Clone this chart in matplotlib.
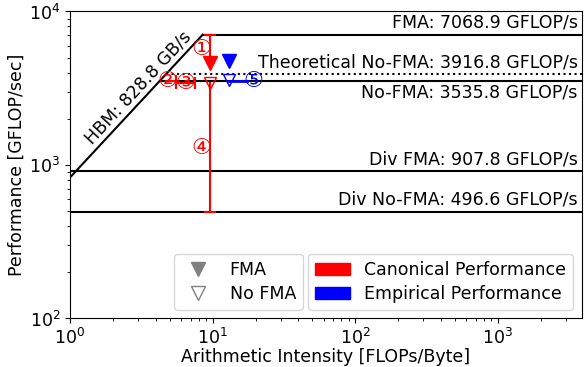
import numpy as np
import matplotlib.pyplot as plt
from matplotlib.lines import Line2D
from matplotlib.patches import Patch

# machine ceilings
hbm_bw = 828.8
peak_fma = 7068.9
peak_nofma = 3535.8
peak_nofma_theory = 3916.8
peak_div_fma = 907.8
peak_div_nofma = 496.6

# measured kernel (arithmetic intensity, GFLOP/s)
canon_ai = 9.55
canon_fma = 4620.0
canon_nofma = 3400.0
emp_ai = 12.97
emp_fma = 4760.0
emp_nofma = 3605.0

# gap markers: x range, y range, caps at the two ends
gap_names = ['①', '②', '③', '④', '⑤']
gap_x = [(canon_ai, canon_ai), (4.73, 5.51), (5.51, 7.53), (canon_ai, canon_ai), (emp_ai, 17.3)]
gap_y = [(canon_fma, peak_fma), (peak_nofma, peak_nofma), (3420.0, 3420.0),
         (peak_div_nofma, canon_nofma), (peak_nofma, peak_nofma)]
gap_caps = [(False, True), (False, True), (True, True), (True, False), (False, False)]
gap_color = ['red', 'red', 'red', 'red', 'blue']
gap_lw = [1.5, 1.5, 1.5, 1.5, 2.0]
gap_label_pos = [(8.33, 5713.0), (4.85, peak_nofma), (6.45, 3420.0), (8.33, 1299.0), (19.4, peak_nofma)]

xmin, xmax = 1, 3900
ymin, ymax = 100, 10000

plt.rcParams['font.size'] = 12.5

fig, ax = plt.subplots(figsize=(5.86, 3.67), dpi=100)
fig.subplots_adjust(left=0.1195, right=0.9932, bottom=0.1322, top=0.9687)
ax.set_xscale('log')
ax.set_yscale('log')
ax.set_xlim(xmin, xmax)
ax.set_ylim(ymin, ymax)

# rooflines
ridge = peak_fma / hbm_bw
ax.plot([xmin, ridge], [hbm_bw * xmin, peak_fma], 'k-', lw=1.5)
ax.plot([ridge, xmax], [peak_fma, peak_fma], 'k-', lw=1.5)
ax.plot([peak_nofma / hbm_bw, xmax], [peak_nofma, peak_nofma], 'k-', lw=1.5)
ax.plot([peak_nofma_theory / hbm_bw, xmax], [peak_nofma_theory] * 2, 'k:', lw=1.5)
ax.plot([xmin, xmax], [peak_div_fma] * 2, 'k-', lw=1.5)
ax.plot([xmin, xmax], [peak_div_nofma] * 2, 'k-', lw=1.5)

def roof_label(text, y, above=True):
    ax.annotate(text, xy=(xmax, y), xytext=(-3, 2 if above else -2),
                textcoords='offset points', ha='right',
                va='bottom' if above else 'top')

roof_label(f'FMA: {peak_fma} GFLOP/s', peak_fma)
roof_label(f'Theoretical No-FMA: {peak_nofma_theory} GFLOP/s', peak_nofma_theory)
roof_label(f'No-FMA: {peak_nofma} GFLOP/s', peak_nofma, above=False)
roof_label(f'Div FMA: {peak_div_fma} GFLOP/s', peak_div_fma)
roof_label(f'Div No-FMA: {peak_div_nofma} GFLOP/s', peak_div_nofma)

# bandwidth label along the slope
p1 = ax.transData.transform((xmin, hbm_bw * xmin))
p2 = ax.transData.transform((ridge, peak_fma))
angle = np.degrees(np.arctan2(p2[1] - p1[1], p2[0] - p1[0]))
ax.annotate(f'HBM: {hbm_bw} GB/s', xy=(3.45, hbm_bw * 3.45), xytext=(-1, 1),
            textcoords='offset points', rotation=angle, rotation_mode='anchor',
            ha='center', va='bottom')

# gaps between ceilings and measurements
for name, xs, ys, caps, c, lw, pos in zip(gap_names, gap_x, gap_y, gap_caps,
                                          gap_color, gap_lw, gap_label_pos):
    ax.plot(xs, ys, color=c, lw=lw)
    cap = '_' if xs[0] == xs[1] else '|'
    for x, y, has_cap in zip(xs, ys, caps):
        if has_cap:
            ax.plot(x, y, marker=cap, color=c, ms=9, mew=1.5)
    ax.text(pos[0], pos[1], name, color=c, ha='center', va='center', fontsize=16)

# measured points
ax.plot(canon_ai, canon_fma, 'v', color='red', ms=10)
ax.plot(emp_ai, emp_fma, 'v', color='blue', ms=10)
ax.plot(canon_ai, canon_nofma, 'v', mfc='none', mec='red', ms=9, mew=1)
ax.plot(emp_ai, emp_nofma, 'v', mfc='none', mec='blue', ms=9, mew=1)

ax.set_xlabel('Arithmetic Intensity [FLOPs/Byte]', labelpad=0)
ax.set_ylabel('Performance [GFLOP/sec]', labelpad=2)

marker_handles = [
    Line2D([], [], marker='v', color='gray', ls='none', ms=10),
    Line2D([], [], marker='v', mfc='none', mec='gray', ls='none', ms=10, mew=1),
]
leg1 = ax.legend(marker_handles, ['FMA', 'No FMA'], loc='lower left',
                 bbox_to_anchor=(0.203, 0.028), borderaxespad=0, labelspacing=0.35)
ax.add_artist(leg1)
color_handles = [Patch(color='red'), Patch(color='blue')]
ax.legend(color_handles, ['Canonical Performance', 'Empirical Performance'],
          loc='lower right', bbox_to_anchor=(0.982, 0.028), borderaxespad=0,
          labelspacing=0.35)

fig.savefig('out.png', dpi=100)
